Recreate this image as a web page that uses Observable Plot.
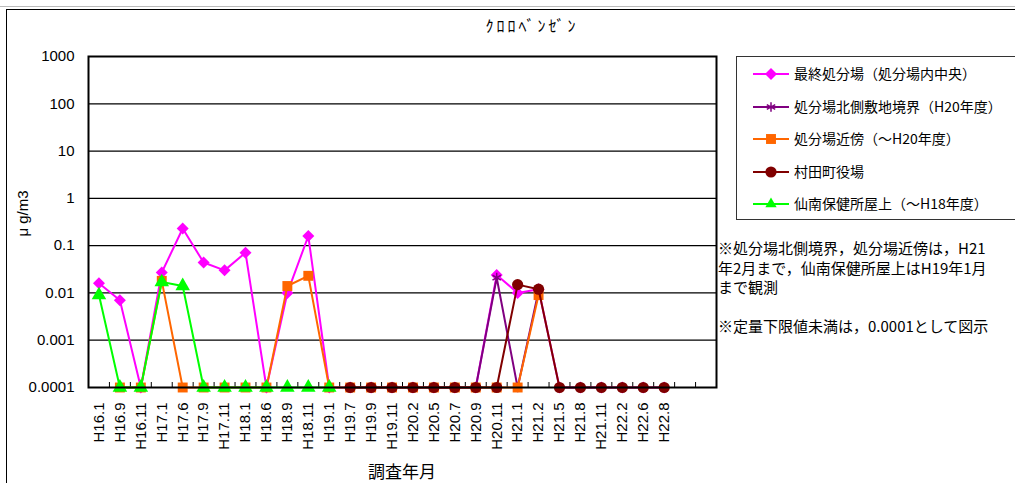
<!DOCTYPE html>
<html><head><meta charset="utf-8">
<script src="https://cdn.jsdelivr.net/npm/d3@7"></script>
<script src="https://cdn.jsdelivr.net/npm/@observablehq/plot@0.6"></script>
<style>
body{margin:0;background:#fff;}
#wrap{position:relative;width:1015px;height:483px;overflow:hidden;font-family:"Noto Sans CJK JP","Liberation Sans",sans-serif;}
#frame{position:absolute;left:6px;top:9px;width:1100px;height:600px;border:1.5px solid #000;box-sizing:border-box;}
#topline{position:absolute;left:0;top:6px;width:1015px;height:1px;background:#bbb;}
.abs{position:absolute;white-space:nowrap;color:#000;}
#legend{position:absolute;left:736px;top:56px;width:300px;height:164px;border:1.5px solid #333;box-sizing:border-box;}
.li{position:absolute;left:0;height:20px;}
.li svg{position:absolute;left:16px;top:0;}
.li span{position:absolute;left:57px;top:-1px;font-size:14px;white-space:nowrap;}
</style></head>
<body>
<div id="wrap">
<div id="topline"></div>
<div id="frame"></div>
<div id="chart" style="position:absolute;left:0;top:0;"></div>
<div class="abs" id="title" style="left:0;width:1064px;text-align:center;top:13px;font-size:16px;letter-spacing:3px;"></div>
<div class="abs" id="ylab" style="left:-3px;top:205px;font-size:15px;font-family:'Liberation Sans','Noto Sans CJK JP';transform:rotate(-90deg);transform-origin:center;width:50px;text-align:center;"></div>
<div class="abs" id="xlab" style="left:352px;width:100px;text-align:center;top:458px;font-size:17px;"></div>
<div id="legend"></div>
<div class="abs" id="note" style="left:718px;top:238px;font-size:15px;line-height:19.5px;"></div>
</div>
<script>
const titleText = "ｸﾛﾛﾍﾞﾝｾﾞﾝ";
const yLabel = "μ g/m3";
const xLabel = "調査年月";
const categories = ["H16.1","H16.9","H16.11","H17.1","H17.6","H17.9","H17.11","H18.1","H18.6","H18.9","H18.11","H19.1","H19.7","H19.9","H19.11","H20.2","H20.5","H20.7","H20.9","H20.11","H21.1","H21.2","H21.5","H21.8","H21.11","H22.2","H22.6","H22.8","",""];
const yTicks = [0.0001,0.001,0.01,0.1,1,10,100,1000];
const seriesNames = ["最終処分場（処分場内中央）","処分場北側敷地境界（H20年度）","処分場近傍（～H20年度）","村田町役場","仙南保健所屋上（～H18年度）"];
const seriesColors = ["#FF00FF","#800080","#FF6600","#800000","#00FF00"];
const seriesSymbols = ["diamond2","asterisk","square","circle","triangle"];
const magenta = [0.016,0.007,0.0001,0.027,0.23,0.044,0.03,0.071,0.0001,0.01,0.16,0.0001,0.0001,0.0001,0.0001,0.0001,0.0001,0.0001,0.0001,0.024,0.01,0.012,0.0001,0.0001,0.0001,0.0001,0.0001,0.0001];
const purple = [null,null,null,null,null,null,null,null,null,null,null,null,null,null,null,null,0.0001,0.0001,0.0001,0.021,0.0001,0.011];
const orange = [null,0.0001,0.0001,0.018,0.0001,0.0001,0.0001,0.0001,0.0001,0.014,0.023,0.0001,0.0001,0.0001,0.0001,0.0001,0.0001,0.0001,0.0001,0.0001,0.0001,0.009];
const maroon = [null,null,null,null,null,null,null,null,null,null,null,null,0.0001,0.0001,0.0001,0.0001,0.0001,0.0001,0.0001,0.0001,0.015,0.012,0.0001,0.0001,0.0001,0.0001,0.0001,0.0001];
const green = [0.009,0.0001,0.0001,0.017,0.014,0.0001,0.0001,0.0001,0.0001,0.0001,0.0001,0.0001];
const noteLines = ["※処分場北側境界，処分場近傍は，H21","年2月まで，仙南保健所屋上はH19年1月","まで観測","","※定量下限値未満は，0.0001として図示"];

const allSeries = [magenta,purple,orange,maroon,green];
const symbolR = [5.4,4.6,5.6,5.6,5.4];

const marks = [];
marks.push(Plot.ruleY(yTicks.slice(1,-1), {stroke:"#000", strokeWidth:1.2}));
marks.push(Plot.axisY({ticks: yTicks, tickFormat: d => String(d), tickSize: 0, tickPadding: 14, fontSize: 15, label: null}));
marks.push(Plot.axisX({ticks: d3.range(categories.length), tickFormat: i => categories[i], tickRotate: -90, tickSize: 0, tickPadding: 15, fontSize: 15, label: null}));
marks.push(Plot.tickX(d3.range(categories.length - 1).map(i => i + 0.5), {x: d => d, insetTop: 326, stroke:"#000", strokeWidth:1}));
allSeries.forEach((vals, s) => {
  const data = vals.map((v, i) => ({i, v})).filter(d => d.v != null);
  marks.push(Plot.line(data, {x: "i", y: "v", stroke: seriesColors[s], strokeWidth: 2}));
  if (seriesSymbols[s] === "asterisk") {
    marks.push(Plot.dot(data, {x: "i", y: "v", symbol: "asterisk", r: symbolR[s], stroke: seriesColors[s], strokeWidth: 1.5}));
  } else {
    marks.push(Plot.dot(data, {x: "i", y: "v", symbol: seriesSymbols[s], r: symbolR[s], fill: seriesColors[s], stroke: "none"}));
  }
});
marks.push(Plot.frame({stroke:"#000", strokeWidth: 2}));

const chart = Plot.plot({
  width: 1015, height: 483,
  marginTop: 56, marginBottom: 96, marginLeft: 88, marginRight: 299,
  x: {type: "linear", domain: [-0.5, categories.length - 0.5], axis: null, label: null},
  y: {type: "log", domain: [0.0001, 1000], axis: null, label: null},
  style: {fontFamily: "'Liberation Sans', Arial, sans-serif", fontSize: "15px", color: "#000", background: "transparent"},
  marks
});
document.getElementById("chart").appendChild(chart);
document.getElementById("title").textContent = titleText;
document.getElementById("ylab").textContent = yLabel;
document.getElementById("xlab").textContent = xLabel;
document.getElementById("note").innerHTML = noteLines.map(l => l === "" ? "&nbsp;" : l).join("<br>");

const legend = document.getElementById("legend");
const rowY = [17, 50, 82, 115, 147];
seriesNames.forEach((name, s) => {
  const row = document.createElement("div");
  row.className = "li";
  row.style.top = (rowY[s] - 10) + "px";
  const ns = "http://www.w3.org/2000/svg";
  const svg = document.createElementNS(ns, "svg");
  svg.setAttribute("width", 36); svg.setAttribute("height", 20);
  const ln = document.createElementNS(ns, "line");
  ln.setAttribute("x1", 0); ln.setAttribute("x2", 36); ln.setAttribute("y1", 10); ln.setAttribute("y2", 10);
  ln.setAttribute("stroke", seriesColors[s]); ln.setAttribute("stroke-width", 2);
  svg.appendChild(ln);
  const symMap = {diamond2: d3.symbolDiamond2, asterisk: d3.symbolAsterisk, square: d3.symbolSquare, circle: d3.symbolCircle, triangle: d3.symbolTriangle2};
  const p = document.createElementNS(ns, "path");
  p.setAttribute("d", d3.symbol(symMap[seriesSymbols[s]], Math.PI * symbolR[s] * symbolR[s])());
  p.setAttribute("transform", "translate(18,10)");
  if (seriesSymbols[s] === "asterisk") { p.setAttribute("stroke", seriesColors[s]); p.setAttribute("stroke-width", 1.5); p.setAttribute("fill", "none"); }
  else p.setAttribute("fill", seriesColors[s]);
  svg.appendChild(p);
  row.appendChild(svg);
  const sp = document.createElement("span");
  sp.textContent = name;
  row.appendChild(sp);
  legend.appendChild(row);
});
</script>
</body></html>
